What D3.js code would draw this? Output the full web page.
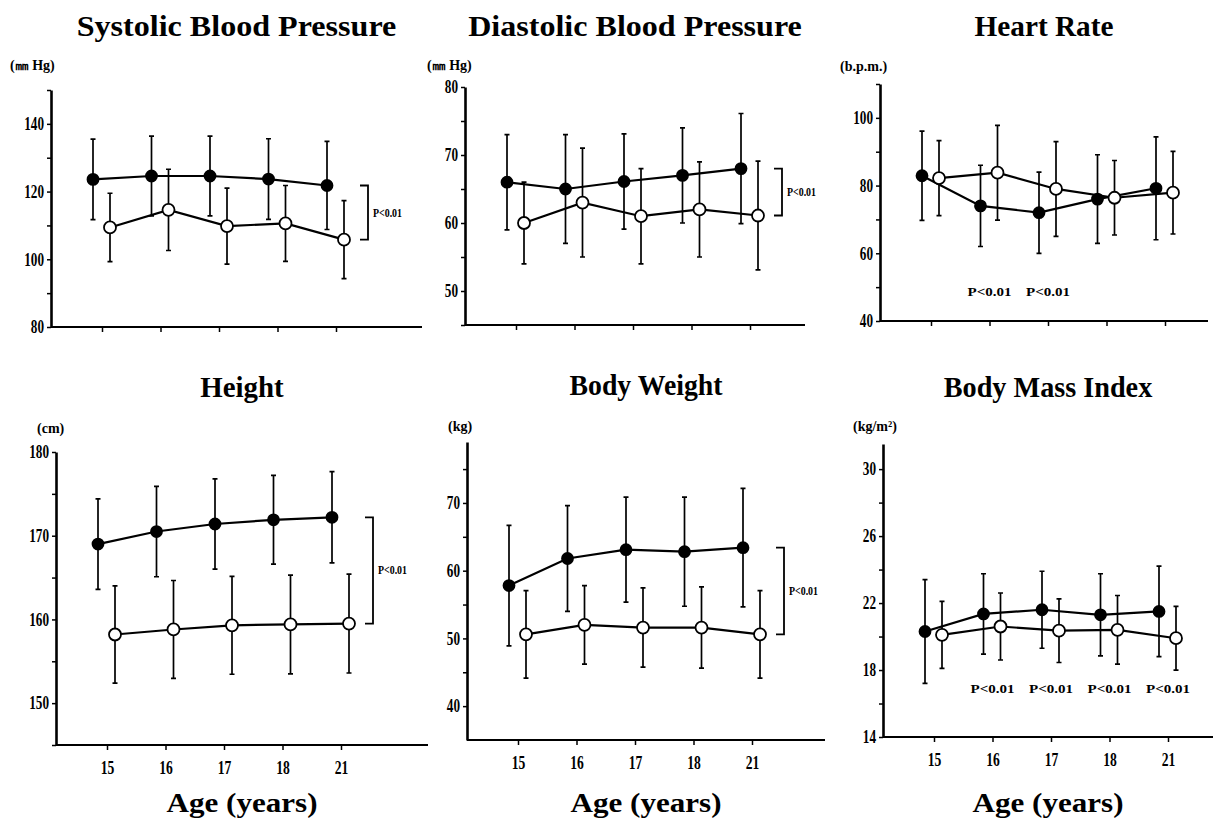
<!DOCTYPE html>
<html>
<head>
<meta charset="utf-8">
<script src="https://cdnjs.cloudflare.com/ajax/libs/d3/7.8.5/d3.min.js"></script>
<style>
body { margin: 0; background: #fff; }
svg { display: block; background: #fff; }
.title, .agelabel { font-family: "Liberation Serif", serif; font-weight: bold; fill: #000; }
.axis text { font-family: "Liberation Serif", serif; font-weight: bold; font-size: 18px; fill: #000; }
.axis path, .axis line { stroke: #000; }
.unit, .plabel { font-family: "Liberation Serif", serif; font-weight: bold; fill: #000; }
</style>
</head>
<body>
<svg width="1214" height="820"></svg>
<script>
// age groups on the x axis
var ages = ["15", "16", "17", "18", "21"];

// systolic blood pressure (mmHg)
var sbpMale = [123.6, 124.6, 124.6, 123.7, 121.8],
    sbpMaleSd = [11.9, 11.8, 11.8, 11.9, 13.0],
    sbpFemale = [109.4, 114.6, 109.8, 110.6, 105.8],
    sbpFemaleSd = [10.1, 12.0, 11.2, 11.2, 11.5],
    sbpTicks = [80, 90, 100, 110, 120, 130, 140, 150],
    sbpLabels = [80, 100, 120, 140];

// diastolic blood pressure (mmHg)
var dbpMale = [66.0, 65.0, 66.1, 67.0, 68.0],
    dbpMaleSd = [7.0, 8.0, 7.0, 7.0, 8.1],
    dbpFemale = [60.0, 63.0, 61.0, 62.0, 61.1],
    dbpFemaleSd = [6.0, 8.0, 7.0, 7.0, 8.0],
    dbpTicks = [45, 50, 55, 60, 65, 70, 75, 80],
    dbpLabels = [50, 60, 70, 80];

// heart rate (b.p.m.)
var hrMale = [82.9, 74.0, 72.0, 76.0, 79.2],
    hrMaleSd = [13.2, 12.0, 12.0, 13.1, 15.2],
    hrFemale = [82.2, 83.8, 79.0, 76.4, 77.9],
    hrFemaleSd = [11.1, 14.0, 14.0, 11.0, 12.2],
    hrTicks = [40, 50, 60, 70, 80, 90, 100, 110],
    hrLabels = [40, 60, 80, 100],
    hrSig = ["16", "17"];

// height (cm)
var htMale = [169.0, 170.5, 171.4, 171.9, 172.2],
    htMaleSd = [5.4, 5.4, 5.4, 5.3, 5.45],
    htFemale = [158.2, 158.8, 159.3, 159.4, 159.5],
    htFemaleSd = [5.8, 5.85, 5.85, 5.9, 5.9],
    htTicks = [145, 150, 155, 160, 165, 170, 175, 180],
    htLabels = [150, 160, 170, 180];

// body weight (kg)
var wtMale = [57.8, 61.8, 63.1, 62.8, 63.4],
    wtMaleSd = [8.9, 7.8, 7.75, 8.05, 8.75],
    wtFemale = [50.6, 52.0, 51.6, 51.6, 50.6],
    wtFemaleSd = [6.45, 5.8, 5.85, 6.0, 6.45],
    wtTicks = [40, 45, 50, 55, 60, 65, 70, 75],
    wtLabels = [40, 50, 60, 70];

// body mass index (kg/m2)
var bmiMale = [20.3, 21.35, 21.6, 21.3, 21.5],
    bmiMaleSd = [3.1, 2.4, 2.3, 2.45, 2.7],
    bmiFemale = [20.1, 20.6, 20.35, 20.4, 19.9],
    bmiFemaleSd = [2.0, 2.0, 1.9, 2.05, 1.9],
    bmiTicks = [14, 16, 18, 20, 22, 24, 26, 28, 30],
    bmiLabels = [14, 18, 22, 26, 30],
    bmiSig = ["16", "17", "18", "21"];

var svg = d3.select("svg");

var panels = [
  {title: "Systolic Blood Pressure", unit: "(㎜ Hg)", male: sbpMale, maleSd: sbpMaleSd, female: sbpFemale, femaleSd: sbpFemaleSd,
   domain: [80, 150], ticks: sbpTicks, labels: sbpLabels, bracket: true,
   x0: 51, x1: 422, bottom: 327, height: 237, titleY: 36, unitX: 10, unitY: 70, xLabels: false},
  {title: "Diastolic Blood Pressure", unit: "(㎜ Hg)", male: dbpMale, maleSd: dbpMaleSd, female: dbpFemale, femaleSd: dbpFemaleSd,
   domain: [45, 80], ticks: dbpTicks, labels: dbpLabels, bracket: true,
   x0: 465, x1: 805, bottom: 325, height: 238, titleY: 36, unitX: 427, unitY: 70, xLabels: false},
  {title: "Heart Rate", unit: "(b.p.m.)", male: hrMale, maleSd: hrMaleSd, female: hrFemale, femaleSd: hrFemaleSd,
   domain: [40, 110], ticks: hrTicks, labels: hrLabels, sig: hrSig, sigLevel: 49,
   x0: 880, x1: 1208, bottom: 321, height: 237, titleY: 36, unitX: 840, unitY: 71, xLabels: false},
  {title: "Height", unit: "(cm)", male: htMale, maleSd: htMaleSd, female: htFemale, femaleSd: htFemaleSd,
   domain: [145, 180], ticks: htTicks, labels: htLabels, bracket: true,
   x0: 56, x1: 428, bottom: 745, height: 293, titleY: 397, unitX: 37, unitY: 433, xLabels: true},
  {title: "Body Weight", unit: "(kg)", male: wtMale, maleSd: wtMaleSd, female: wtFemale, femaleSd: wtFemaleSd,
   domain: [35, 79], ticks: wtTicks, labels: wtLabels, bracket: true,
   x0: 467, x1: 825, bottom: 740, height: 298, titleY: 395, unitX: 448, unitY: 431, xLabels: true},
  {title: "Body Mass Index", unit: "(kg/m²)", male: bmiMale, maleSd: bmiMaleSd, female: bmiFemale, femaleSd: bmiFemaleSd,
   domain: [14, 31.5], ticks: bmiTicks, labels: bmiLabels, sig: bmiSig, sigLevel: 16.9,
   x0: 883, x1: 1213, bottom: 737, height: 293, titleY: 397, unitX: 853, unitY: 431, xLabels: true}
];

panels.forEach(function(p) {
  var g = svg.append("g");

  var x = d3.scalePoint().domain(ages).range([p.x0 + 51, p.x0 + 51 + 4 * 58.5]);
  var y = d3.scaleLinear().domain(p.domain).range([p.bottom, p.bottom - p.height]);

  // y axis
  var yAxis = g.append("g")
    .attr("class", "axis")
    .attr("transform", "translate(" + p.x0 + ",0)")
    .call(d3.axisLeft(y).tickValues(p.ticks).tickSize(4).tickSizeOuter(0).tickPadding(3)
      .tickFormat(function(d) { return p.labels.indexOf(d) >= 0 ? d : ""; }));
  yAxis.select(".domain").attr("stroke-width", 2.6);
  yAxis.selectAll(".tick line").attr("stroke-width", 1.5);
  yAxis.selectAll("text")
    .filter(function() { return this.textContent !== ""; })
    .attr("textLength", function() { return this.textContent.length * 6.6; })
    .attr("lengthAdjust", "spacingAndGlyphs");

  // x axis line runs past the last age group
  g.append("line")
    .attr("x1", p.x0).attr("x2", p.x1)
    .attr("y1", p.bottom).attr("y2", p.bottom)
    .attr("stroke", "#000").attr("stroke-width", 2.2);

  var xAxis = g.append("g")
    .attr("class", "axis")
    .attr("transform", "translate(0," + p.bottom + ")")
    .call(d3.axisBottom(x).tickSize(5).tickPadding(11)
      .tickFormat(function(d) { return p.xLabels ? d : ""; }));
  xAxis.select(".domain").remove();
  xAxis.selectAll(".tick line").attr("stroke-width", 1.5);
  xAxis.selectAll("text")
    .filter(function() { return this.textContent !== ""; })
    .attr("textLength", function() { return this.textContent.length * 6.8; })
    .attr("lengthAdjust", "spacingAndGlyphs");

  // two series: filled (left of tick) and open (right of tick)
  var series = [
    {values: p.male, sd: p.maleSd, dx: -9, fill: "#000", r: 5.5},
    {values: p.female, sd: p.femaleSd, dx: 8, fill: "#fff", r: 6}
  ];

  series.forEach(function(s) {
    var pts = ages.map(function(a, i) { return {age: a, v: s.values[i], sd: s.sd[i]}; });
    var px = function(d) { return x(d.age) + s.dx; };

    // error bars
    g.selectAll(null)
      .data(pts)
      .enter().append("path")
      .attr("d", function(d) {
        var cx = px(d), t = y(d.v + d.sd), b = y(d.v - d.sd);
        return "M" + (cx - 2.5) + "," + t + "H" + (cx + 2.5) +
               "M" + cx + "," + t + "V" + b +
               "M" + (cx - 2.5) + "," + b + "H" + (cx + 2.5);
      })
      .attr("stroke", "#000").attr("stroke-width", 1.7).attr("fill", "none");

    // mean line
    var line = d3.line()
      .x(px)
      .y(function(d) { return y(d.v); });
    g.append("path")
      .attr("d", line(pts))
      .attr("stroke", "#000").attr("stroke-width", 2.2).attr("fill", "none");
  });

  series.forEach(function(s) {
    var pts = ages.map(function(a, i) { return {age: a, v: s.values[i]}; });
    g.selectAll(null)
      .data(pts)
      .enter().append("circle")
      .attr("cx", function(d) { return x(d.age) + s.dx; })
      .attr("cy", function(d) { return y(d.v); })
      .attr("r", s.r)
      .attr("fill", s.fill)
      .attr("stroke", "#000").attr("stroke-width", 1.8);
  });

  // significance bracket between last points
  if (p.bracket) {
    var last = ages[ages.length - 1];
    var bx = x(last) + 32,
        by1 = y(p.male[p.male.length - 1]),
        by2 = y(p.female[p.female.length - 1]);
    g.append("path")
      .attr("d", "M" + (bx - 8) + "," + by1 + "H" + bx + "V" + by2 + "H" + (bx - 8))
      .attr("stroke", "#000").attr("stroke-width", 1.8).attr("fill", "none");
    g.append("text")
      .attr("class", "plabel")
      .attr("x", bx + 5)
      .attr("y", (by1 + by2) / 2 + 4)
      .attr("font-size", 13)
      .attr("textLength", 29).attr("lengthAdjust", "spacingAndGlyphs")
      .text("P<0.01");
  }

  // significance labels under individual age groups
  if (p.sig) {
    g.selectAll(null)
      .data(p.sig)
      .enter().append("text")
      .attr("class", "plabel")
      .attr("x", function(d) { return x(d); })
      .attr("y", y(p.sigLevel) + 5)
      .attr("text-anchor", "middle")
      .attr("font-size", 13)
      .attr("textLength", 44).attr("lengthAdjust", "spacingAndGlyphs")
      .text("P<0.01");
  }

  // title and unit
  g.append("text")
    .attr("class", "title")
    .attr("x", (p.x0 + p.x1) / 2)
    .attr("y", p.titleY)
    .attr("text-anchor", "middle")
    .attr("font-size", 30)
    .attr("textLength", p.title.length * 13.9).attr("lengthAdjust", "spacingAndGlyphs")
    .text(p.title);

  g.append("text")
    .attr("class", "unit")
    .attr("x", p.unitX)
    .attr("y", p.unitY)
    .attr("font-size", 14)
    .text(p.unit);

  if (p.xLabels) {
    g.append("text")
      .attr("class", "agelabel")
      .attr("x", (p.x0 + p.x1) / 2)
      .attr("y", 812)
      .attr("text-anchor", "middle")
      .attr("font-size", 28)
      .attr("textLength", 151).attr("lengthAdjust", "spacingAndGlyphs")
      .text("Age (years)");
  }
});
</script>
</body>
</html>
